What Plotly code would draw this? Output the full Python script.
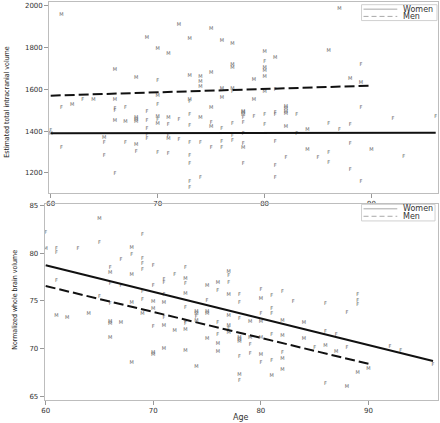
import plotly.graph_objects as go

# ---------------- Top panel: Estimated total intracranial volume ----------------
top_f_age = [60, 61, 61, 63, 65, 65, 66, 66, 66, 67, 67, 68, 69, 69, 69, 69, 69,
             70, 70, 70, 70, 71, 71, 71, 72, 72, 73, 73, 73, 73, 73, 73, 73, 73,
             74, 74, 75, 75, 76, 76, 76, 77, 77, 77, 77, 78, 78, 78, 78, 78, 79,
             80, 80, 80, 81, 81, 81, 81, 81, 81, 82, 83, 83, 85, 86, 86, 86, 87,
             88, 88, 88, 89, 89, 89, 92, 93, 96]
top_f_val = [1402, 1514, 1318, 1548, 1343, 1280, 1508, 1497, 1194, 1510, 1343, 1301,
             1448, 1494, 1410, 1382, 1363, 1641, 1525, 1452, 1298, 1429, 1376, 1289,
             1456, 1357, 1540, 1476, 1427, 1346, 1280, 1241, 1156, 1127, 1346, 1175,
             1440, 1320, 1411, 1348, 1320, 1589, 1435, 1379, 1355, 1463, 1440, 1386,
             1337, 1244, 1467, 1731, 1476, 1432, 1598, 1489, 1476, 1348, 1232, 1178,
             1273, 1478, 1388, 1270, 1433, 1295, 1249, 1406, 1432, 1340, 1216, 1717,
             1510, 1157, 1457, 1275, 1468]
top_m_age = [60, 61, 62, 64, 65, 66, 66, 66, 67, 68, 68, 68, 68, 68, 69, 70, 70, 70,
             70, 71, 71, 71, 72, 73, 73, 73, 74, 74, 74, 74, 75, 75, 75, 75, 76, 76,
             76, 77, 77, 77, 77, 78, 78, 78, 78, 79, 79, 80, 80, 80, 80, 80, 81, 82,
             82, 82, 82, 82, 84, 84, 86, 87, 88, 89, 90]
top_m_val = [1385, 1956, 1527, 1548, 1367, 1695, 1549, 1448, 1443, 1656, 1462, 1452,
             1443, 1333, 1849, 1795, 1570, 1467, 1433, 1770, 1463, 1362, 1911, 1841,
             1664, 1552, 1662, 1638, 1614, 1465, 1890, 1679, 1511, 1419, 1835, 1603,
             1559, 1817, 1716, 1705, 1603, 1495, 1486, 1476, 1319, 1644, 1549, 1782,
             1705, 1689, 1660, 1589, 1751, 1518, 1506, 1495, 1482, 1419, 1406, 1311,
             1784, 1987, 1652, 1633, 1310]
top_fit_women_x = [60, 96]
top_fit_women_y = [1390, 1392]
top_fit_men_x = [60, 90]
top_fit_men_y = [1570, 1618]

# ---------------- Bottom panel: Normalized whole brain volume ----------------
bot_f_age = [60, 61, 61, 61, 63, 65, 65, 66, 66, 66, 67, 67, 68, 69, 69, 69, 69, 69,
             69, 70, 70, 70, 71, 71, 71, 71, 72, 73, 73, 73, 73, 73, 74, 75, 76, 76,
             76, 77, 77, 77, 78, 78, 78, 78, 78, 79, 79, 80, 80, 80, 81, 81, 81, 81,
             81, 82, 82, 83, 85, 86, 86, 86, 87, 88, 88, 89, 89, 89, 92, 93, 96]
bot_f_val = [82.1, 80.5, 80.1, 77.1, 80.5, 81.1, 75.4, 78.5, 76.8, 74.7, 79.3, 76.6,
             79.8, 81.9, 79.4, 78.9, 78.3, 76.0, 75.1, 78.7, 76.6, 72.3, 77.2, 76.9,
             75.6, 73.2, 77.7, 78.5, 76.8, 74.3, 72.8, 72.6, 73.3, 75.0, 76.1, 72.7,
             71.5, 77.6, 76.9, 72.1, 75.6, 74.8, 73.1, 69.1, 66.6, 70.4, 69.5, 76.2,
             73.7, 68.5, 75.5, 74.2, 73.7, 71.5, 68.7, 76.0, 69.6, 74.9, 70.1, 74.7,
             71.8, 66.3, 71.5, 73.8, 70.1, 75.6, 75.0, 74.6, 70.2, 69.8, 68.3]
bot_m_age = [60, 61, 62, 64, 65, 66, 66, 66, 66, 67, 68, 68, 68, 68, 69, 70, 70, 70,
             70, 71, 71, 71, 72, 73, 73, 73, 73, 74, 74, 74, 74, 75, 75, 75, 75, 76,
             76, 76, 77, 77, 77, 77, 77, 78, 78, 78, 78, 79, 79, 80, 80, 80, 80, 81,
             82, 82, 82, 82, 84, 84, 86, 87, 88, 89, 90]
bot_m_val = [80.5, 73.4, 73.2, 73.7, 83.6, 78.0, 72.8, 72.6, 71.1, 72.7, 80.6, 77.7,
             74.8, 68.5, 73.7, 74.9, 74.2, 69.6, 69.3, 74.8, 72.4, 70.0, 71.9, 77.3,
             75.8, 72.0, 69.8, 73.9, 73.6, 72.9, 68.1, 76.6, 73.9, 73.6, 71.0, 76.9,
             70.5, 69.7, 78.1, 75.6, 73.4, 72.4, 71.7, 71.1, 70.9, 70.7, 67.3, 72.8,
             71.1, 75.2, 72.8, 71.1, 69.3, 67.1, 72.9, 71.3, 68.9, 67.8, 72.7, 71.0,
             70.3, 69.7, 66.0, 67.5, 67.9]
bot_fit_women_x = [60, 96]
bot_fit_women_y = [78.75, 68.7]
bot_fit_men_x = [60, 90]
bot_fit_men_y = [76.56, 68.4]

x_ticks = [60, 70, 80, 90]
top_y_ticks = [1200, 1400, 1600, 1800, 2000]
bot_y_ticks = [65, 70, 75, 80, 85]
legend_labels = ["Women", "Men"]

W, H = 440, 423
TICKFONT = dict(family="DejaVu Sans", size=7, color="#333")
MARK_FONT = dict(family="DejaVu Sans", size=5, color="#6a6a6a")
LINE_CLR = "#111"
FRAME = "#bdbdbd"

fig = go.Figure()

def add_panel(xa, ya, f_age, f_val, m_age, m_val, wx, wy, mx, my):
    fig.add_trace(go.Scatter(x=f_age, y=f_val, mode="text", text=["F"] * len(f_age),
                             textfont=MARK_FONT, textposition="middle center",
                             xaxis=xa, yaxis=ya, showlegend=False, hoverinfo="skip"))
    fig.add_trace(go.Scatter(x=m_age, y=m_val, mode="text", text=["M"] * len(m_age),
                             textfont=MARK_FONT, textposition="middle center",
                             xaxis=xa, yaxis=ya, showlegend=False, hoverinfo="skip"))
    fig.add_trace(go.Scatter(x=wx, y=wy, mode="lines", line=dict(color=LINE_CLR, width=2),
                             xaxis=xa, yaxis=ya, showlegend=False, hoverinfo="skip"))
    fig.add_trace(go.Scatter(x=mx, y=my, mode="lines",
                             line=dict(color=LINE_CLR, width=2, dash="10px,4px"),
                             xaxis=xa, yaxis=ya, showlegend=False, hoverinfo="skip"))

add_panel("x", "y", top_f_age, top_f_val, top_m_age, top_m_val,
          top_fit_women_x, top_fit_women_y, top_fit_men_x, top_fit_men_y)
add_panel("x2", "y2", bot_f_age, bot_f_val, bot_m_age, bot_m_val,
          bot_fit_women_x, bot_fit_women_y, bot_fit_men_x, bot_fit_men_y)

def px(v):
    return v / W

def py(v):
    return 1 - v / H

axis_common = dict(showline=True, mirror=True, linecolor=FRAME, linewidth=1,
                   ticks="outside", ticklen=4, tickcolor="#999", tickwidth=1,
                   showgrid=False, zeroline=False, tickfont=TICKFONT)

fig.update_layout(
    width=W, height=H, margin=dict(l=0, r=0, t=0, b=0),
    paper_bgcolor="white", plot_bgcolor="white", showlegend=False,
    xaxis=dict(domain=[px(46.5), px(437.5)], range=[59.86, 96.17],
               tickvals=x_ticks, anchor="y", **axis_common),
    yaxis=dict(domain=[py(192), py(0.5)], range=[1104.8, 2016.7],
               tickvals=top_y_ticks, anchor="x", **axis_common),
    xaxis2=dict(domain=[px(42), px(437.5)], range=[59.91, 96.42],
                tickvals=x_ticks, anchor="y2", **axis_common),
    yaxis2=dict(domain=[py(400.5), py(203.5)], range=[64.64, 85.16],
                tickvals=bot_y_ticks, anchor="x2", **axis_common),
)

TITLE_FONT = dict(family="Liberation Sans Narrow, DejaVu Sans Condensed, Arial Narrow, sans-serif",
                  size=7, color="#222")
annotations = [
    dict(text="Estimated total intracranial volume", x=px(4.5), y=py(100), xref="paper",
         yref="paper", textangle=-90, showarrow=False, font=TITLE_FONT,
         xanchor="center", yanchor="middle"),
    dict(text="Normalized whole brain volume", x=px(12), y=py(300), xref="paper",
         yref="paper", textangle=-90, showarrow=False, font=TITLE_FONT,
         xanchor="center", yanchor="middle"),
    dict(text="Age", x=px(239.5), y=py(418), xref="paper", yref="paper", showarrow=False,
         font=dict(family="DejaVu Sans", size=8, color="#333"),
         xanchor="center", yanchor="middle"),
]

shapes = []
LEG_FONT = dict(family="DejaVu Sans", size=8, color="#333")
for (bx0, by0, bx1, by1, rw, rm) in [(361, 2.7, 437, 18.7, 7.2, 14.5),
                                      (361, 203.8, 435, 220.5, 208.3, 215.8)]:
    shapes.append(dict(type="rect", xref="paper", yref="paper", x0=px(bx0), x1=px(bx1),
                       y0=py(by1), y1=py(by0), line=dict(color="#d0d0d0", width=1),
                       fillcolor="white", layer="above"))
    for label, row, dash in [(legend_labels[0], rw, "solid"), (legend_labels[1], rm, "5px,3px")]:
        shapes.append(dict(type="line", xref="paper", yref="paper", x0=px(363), x1=px(397),
                           y0=py(row), y1=py(row), line=dict(color="#a8a8a8", width=1, dash=dash),
                           layer="above"))
        annotations.append(dict(text=label, x=px(401), y=py(row), xref="paper", yref="paper",
                                showarrow=False, font=LEG_FONT, xanchor="left",
                                yanchor="middle"))

fig.update_layout(annotations=annotations, shapes=shapes)
fig.write_html("out.html", config={"displayModeBar": False},
               post_script="document.body.style.margin='0';document.body.style.overflow='hidden';")
